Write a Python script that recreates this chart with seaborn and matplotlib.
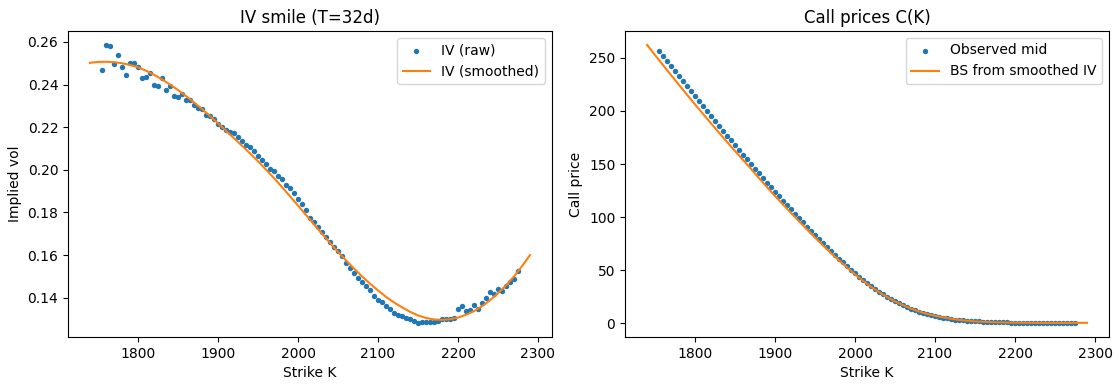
import numpy as np
import matplotlib
matplotlib.use("Agg")
import matplotlib.pyplot as plt
import seaborn as sns

# strikes of the quoted options and of the smoothing grid
STRIKES = np.arange(1755, 2280, 5)
GRID = np.arange(1740, 2300, 10)

IV_RAW = [
    0.2468, 0.2586, 0.2583, 0.2496, 0.2538, 0.2484, 0.2446, 0.2500, 0.2500, 0.2481,
    0.2429, 0.2435, 0.2456, 0.2399, 0.2393, 0.2429, 0.2374, 0.2394, 0.2346, 0.2341,
    0.2355, 0.2328, 0.2327, 0.2304, 0.2289, 0.2283, 0.2258, 0.2253, 0.2238, 0.2214,
    0.2199, 0.2187, 0.2178, 0.2172, 0.2156, 0.2136, 0.2115, 0.2107, 0.2089, 0.2065,
    0.2046, 0.2026, 0.2006, 0.1994, 0.1971, 0.1959, 0.1927, 0.1914, 0.1889, 0.1864,
    0.1840, 0.1811, 0.1775, 0.1754, 0.1733, 0.1707, 0.1686, 0.1660, 0.1639, 0.1618,
    0.1594, 0.1563, 0.1540, 0.1516, 0.1493, 0.1472, 0.1453, 0.1434, 0.1409, 0.1391,
    0.1378, 0.1359, 0.1347, 0.1328, 0.1320, 0.1312, 0.1304, 0.1298, 0.1293, 0.1281,
    0.1288, 0.1284, 0.1284, 0.1288, 0.1293, 0.1300, 0.1301, 0.1301, 0.1307, 0.1347,
    0.1359, 0.1340, 0.1344, 0.1367, 0.1347, 0.1375, 0.1399, 0.1425, 0.1419, 0.1441,
    0.1430, 0.1453, 0.1472, 0.1488, 0.1524,
]

IV_SMOOTH = [
    0.2502, 0.2506, 0.2507, 0.2505, 0.2500, 0.2492, 0.2481, 0.2465, 0.2446, 0.2424,
    0.2400, 0.2374, 0.2346, 0.2316, 0.2285, 0.2252, 0.2218, 0.2183, 0.2148, 0.2113,
    0.2077, 0.2040, 0.2001, 0.1961, 0.1919, 0.1876, 0.1832, 0.1788, 0.1744, 0.1700,
    0.1657, 0.1615, 0.1575, 0.1537, 0.1500, 0.1466, 0.1434, 0.1404, 0.1378, 0.1355,
    0.1334, 0.1317, 0.1305, 0.1298, 0.1296, 0.1299, 0.1307, 0.1320, 0.1337, 0.1360,
    0.1388, 0.1421, 0.1458, 0.1500, 0.1548, 0.1600,
]

CALL_MID = [
    256.8, 252.0, 247.2, 242.5, 237.7, 233.0, 228.3, 223.5, 218.8, 214.1,
    209.4, 204.7, 200.0, 195.3, 190.6, 186.0, 181.4, 176.9, 172.3, 167.8,
    163.3, 158.8, 154.3, 149.9, 145.5, 141.1, 136.7, 132.4, 128.1, 123.8,
    119.6, 115.5, 111.4, 107.3, 103.2, 99.1, 95.1, 91.1, 87.1, 83.2,
    79.3, 75.5, 71.7, 68.0, 64.4, 60.8, 57.3, 53.9, 50.5, 47.2,
    44.0, 40.9, 37.9, 35.1, 32.4, 29.8, 27.3, 25.0, 22.8, 20.8,
    18.9, 17.1, 15.4, 13.8, 12.2, 10.8, 9.6, 8.5, 7.6, 6.7,
    5.9, 5.2, 4.5, 3.9, 3.4, 2.9, 2.6, 2.3, 2.0, 1.8,
    1.6, 1.4, 1.3, 1.1, 1.0, 0.9, 0.8, 0.7, 0.65, 0.6,
    0.55, 0.5, 0.45, 0.4, 0.35, 0.32, 0.3, 0.27, 0.24, 0.2,
    0.18, 0.16, 0.14, 0.12, 0.1,
]

CALL_BS = [
    262.3, 252.7, 243.2, 233.8, 224.5, 215.3, 206.2, 197.2, 188.3, 179.5,
    170.8, 162.2, 153.8, 145.4, 136.6, 128.2, 119.8, 111.8, 103.9, 96.0,
    88.3, 80.7, 73.3, 66.0, 59.1, 52.5, 46.0, 39.9, 34.3, 29.2,
    24.6, 20.5, 17.0, 13.8, 11.0, 8.8, 7.0, 5.5, 4.2, 3.1,
    2.3, 1.7, 1.3, 1.0, 0.75, 0.6, 0.5, 0.4, 0.35, 0.3,
    0.3, 0.3, 0.3, 0.3, 0.35, 0.4,
]


def draw_panel(ax, dots, line, dot_label, line_label, title, ylabel):
    sns.scatterplot(x=STRIKES, y=dots, ax=ax, color="C0", s=15, linewidth=0,
                    label=dot_label)
    sns.lineplot(x=GRID, y=line, ax=ax, color="C1", linewidth=1.5,
                 label=line_label)
    ax.set_title(title)
    ax.set_xlabel("Strike K")
    ax.set_ylabel(ylabel)
    ax.legend(loc="upper right")


def main():
    fig, (ax1, ax2) = plt.subplots(1, 2, figsize=(11.19, 3.84), dpi=100)
    fig.subplots_adjust(left=0.0608, right=0.9911, bottom=0.1224, top=0.9193,
                        wspace=0.151)

    draw_panel(ax1, IV_RAW, IV_SMOOTH, "IV (raw)", "IV (smoothed)",
               "IV smile (T=32d)", "Implied vol")
    draw_panel(ax2, CALL_MID, CALL_BS, "Observed mid", "BS from smoothed IV",
               "Call prices C(K)", "Call price")

    fig.savefig("out.png", dpi=100)


if __name__ == "__main__":
    main()
